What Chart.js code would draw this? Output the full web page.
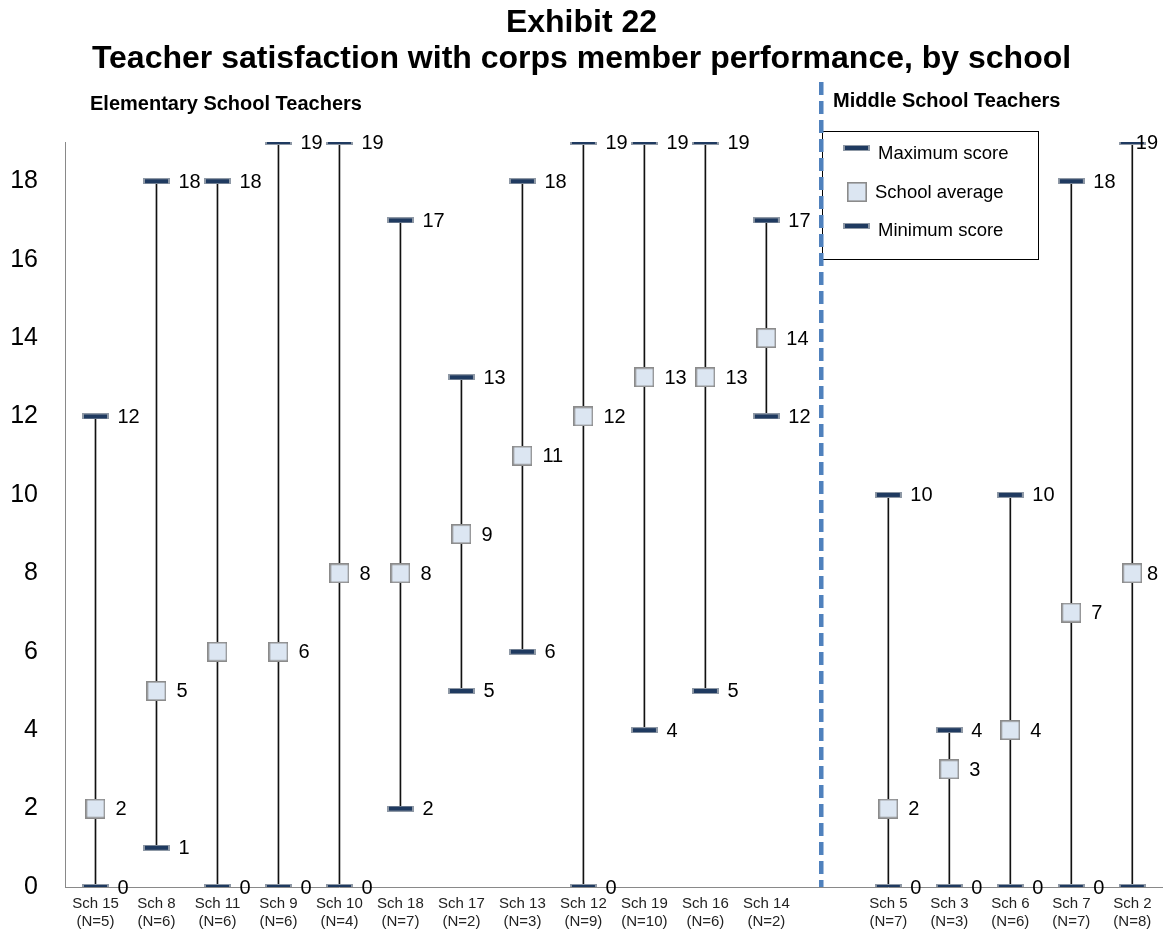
<!DOCTYPE html>
<html lang="en">
<head>
  <meta charset="UTF-8" />
  <title>Exhibit 22</title>
  <script src="https://cdn.jsdelivr.net/npm/chart.js"></script>
  <style>
    html, body { margin: 0; padding: 0; background: #fff; overflow: hidden; }
    #wrap { width: 1163px; height: 930px; }
  </style>
</head>
<body>
  <div id="wrap"><canvas id="chart"></canvas></div>
  <script>
    // data (empty slot 12 separates the two school levels)
    const schools = [
      ['Sch 15', '(N=5)'], ['Sch 8', '(N=6)'], ['Sch 11', '(N=6)'], ['Sch 9', '(N=6)'],
      ['Sch 10', '(N=4)'], ['Sch 18', '(N=7)'], ['Sch 17', '(N=2)'], ['Sch 13', '(N=3)'],
      ['Sch 12', '(N=9)'], ['Sch 19', '(N=10)'], ['Sch 16', '(N=6)'], ['Sch 14', '(N=2)'],
      '',
      ['Sch 5', '(N=7)'], ['Sch 3', '(N=3)'], ['Sch 6', '(N=6)'], ['Sch 7', '(N=7)'], ['Sch 2', '(N=8)']
    ];
    const maxScores = [12, 18, 18, 19, 19, 17, 13, 18, 19, 19, 19, 17, null, 10, 4, 10, 18, 19];
    const avgScores = [2, 5, 6, 6, 8, 8, 9, 11, 12, 13, 13, 14, null, 2, 3, 4, 7, 8];
    const minScores = [0, 1, 0, 0, 0, 2, 5, 6, 0, 4, 5, 12, null, 0, 0, 0, 0, 0];
    const yTicks = [0, 2, 4, 6, 8, 10, 12, 14, 16, 18];
    // value labels the exhibit leaves out
    const hideAvgLabel = [2];
    const hideMinLabel = [17];

    const FONT = "'Liberation Sans', Arial, sans-serif";

    // marker images (images keep the point radius, and so the layout overflow, tiny)
    function makeDash() {
      const c = document.createElement('canvas');
      c.width = 27; c.height = 6;
      const g = c.getContext('2d');
      g.fillStyle = '#8f99a6';
      g.fillRect(0, 0, 27, 6);
      g.fillStyle = '#1f3a60';
      g.fillRect(2, 1, 23, 4);
      return c;
    }
    function makeSquare() {
      const c = document.createElement('canvas');
      c.width = 20; c.height = 20;
      const g = c.getContext('2d');
      g.fillStyle = '#dce6f2';
      g.fillRect(0, 0, 20, 20);
      g.strokeStyle = '#8b8b8b';
      g.lineWidth = 1.6;
      g.strokeRect(0.8, 0.8, 18.4, 18.4);
      return c;
    }
    const dash = makeDash();
    const square = makeSquare();

    const rangeBars = minScores.map((v, i) => v === null ? null : [v, maxScores[i]]);

    const extras = {
      id: 'extras',
      afterDatasetsDraw(chart) {
        const ctx = chart.ctx;
        const W = chart.width;
        const y = chart.scales.y;
        const x = chart.scales.x;
        ctx.save();

        // value labels
        ctx.font = '20px ' + FONT;
        ctx.fillStyle = '#000';
        ctx.textAlign = 'left';
        ctx.textBaseline = 'middle';
        const sets = [
          { idx: 0, vals: maxScores, off: 22, hide: [] },
          { idx: 1, vals: avgScores, off: 20, hide: hideAvgLabel },
          { idx: 2, vals: minScores, off: 22, hide: hideMinLabel }
        ];
        sets.forEach(s => {
          const meta = chart.getDatasetMeta(s.idx);
          meta.data.forEach((pt, i) => {
            if (s.vals[i] === null || s.hide.includes(i)) return;
            const txt = String(s.vals[i]);
            const w = ctx.measureText(txt).width;
            const px = Math.min(pt.x + s.off, W - w - 5);
            ctx.fillText(txt, px, pt.y + 1);
          });
        });

        // legend box
        ctx.fillStyle = '#fff';
        ctx.fillRect(822, 131, 216, 128);
        ctx.strokeStyle = '#000';
        ctx.lineWidth = 1;
        ctx.strokeRect(822.5, 131.5, 216, 128);
        ctx.drawImage(dash, 843, 145);
        ctx.drawImage(square, 847, 182);
        ctx.drawImage(dash, 843, 223);
        ctx.fillStyle = '#000';
        ctx.font = '18.5px ' + FONT;
        ctx.textBaseline = 'alphabetic';
        ctx.fillText('Maximum score', 878, 159);
        ctx.fillText('School average', 875, 198);
        ctx.fillText('Minimum score', 878, 236);

        // divider between elementary and middle schools
        const dx = x.getPixelForValue(11.9);
        ctx.strokeStyle = '#4f81bd';
        ctx.lineWidth = 4.5;
        ctx.setLineDash([13, 6]);
        ctx.beginPath();
        ctx.moveTo(dx, 82);
        ctx.lineTo(dx, y.getPixelForValue(0));
        ctx.stroke();
        ctx.setLineDash([]);

        // group headings
        ctx.font = 'bold 20px ' + FONT;
        ctx.fillText('Elementary School Teachers', 90, 110);
        ctx.fillText('Middle School Teachers', 833, 107);
        ctx.restore();
      }
    };

    const pointOpts = { showLine: false, pointRadius: 0.2, pointHoverRadius: 0.2, pointBorderWidth: 0 };

    new Chart(document.getElementById('chart'), {
      type: 'bar',
      data: {
        labels: schools,
        datasets: [
          Object.assign({ type: 'line', label: 'Maximum score', data: maxScores, pointStyle: dash, order: 1 }, pointOpts),
          Object.assign({ type: 'line', label: 'School average', data: avgScores, pointStyle: square, order: 0 }, pointOpts),
          Object.assign({ type: 'line', label: 'Minimum score', data: minScores, pointStyle: dash, order: 1 }, pointOpts),
          {
            type: 'bar', label: 'range', data: rangeBars,
            backgroundColor: '#111', barThickness: 1, order: 5
          }
        ]
      },
      options: {
        responsive: true,
        maintainAspectRatio: false,
        animation: false,
        layout: { padding: { left: 0, right: 0, top: 0, bottom: 0 } },
        plugins: {
          legend: { display: false },
          tooltip: { enabled: false },
          title: {
            display: true,
            text: ['Exhibit 22', 'Teacher satisfaction with corps member performance, by school'],
            color: '#000',
            font: { family: FONT, size: 32, weight: 'bold', lineHeight: 1.1 },
            padding: { top: 6, bottom: 65.6 }
          }
        },
        scales: {
          x: {
            grid: { display: false, drawTicks: false },
            border: { display: true, color: '#898989' },
            ticks: {
              color: '#222', autoSkip: false, maxRotation: 0, padding: 7,
              font: { family: FONT, size: 15, lineHeight: 1.25 }
            },
            afterFit(s) { s.height = 43; s.paddingLeft = 0; s.paddingRight = 0; }
          },
          y: {
            min: 0, max: 19,
            grid: { display: false, drawTicks: false },
            border: { display: true, color: '#898989' },
            ticks: {
              color: '#000', padding: 27,
              font: { family: FONT, size: 25 }
            },
            afterBuildTicks(s) { s.ticks = yTicks.map(v => ({ value: v })); },
            afterFit(s) { s.width = 65; }
          }
        }
      },
      plugins: [extras]
    });
  </script>
</body>
</html>
